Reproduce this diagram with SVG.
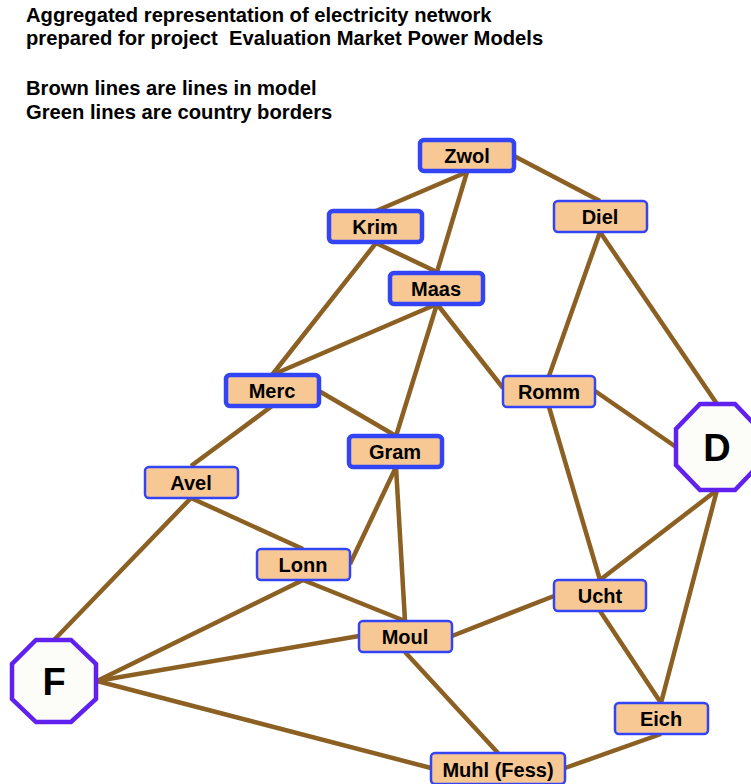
<svg xmlns="http://www.w3.org/2000/svg" width="751" height="784" viewBox="0 0 751 784">
<style>
.t{font-family:"Liberation Sans",Arial,sans-serif;font-weight:bold;font-size:20.2px;fill:#000;white-space:pre}
.n rect{fill:#F7C894;stroke:#3344F5;stroke-width:2.5}
.n.k rect{stroke-width:4.5}
.n text{font-family:"Liberation Sans",Arial,sans-serif;font-weight:bold;font-size:20px;fill:#000;text-anchor:middle}
.o polygon{fill:#FCFCF8;stroke:#6020EE;stroke-width:4.5}
.o text{font-family:"Liberation Sans",Arial,sans-serif;font-weight:bold;font-size:38px;fill:#000;text-anchor:middle}
#edges line{stroke:#8C6023;stroke-width:4.5;stroke-linecap:butt}
</style>
<rect width="751" height="784" fill="#fff"/>
<g id="title">
<text class="t" x="26" y="22">Aggregated representation of electricity network</text>
<text class="t" x="26" y="45" xml:space="preserve">prepared for project  Evaluation Market Power Models</text>
<text class="t" x="26" y="95">Brown lines are lines in model</text>
<text class="t" x="26" y="119">Green lines are country borders</text>
</g>
<g id="edges">
<line x1="467" y1="172" x2="376" y2="211"/>
<line x1="467" y1="172" x2="437" y2="272"/>
<line x1="514" y1="156" x2="600" y2="201"/>
<line x1="376" y1="243" x2="437" y2="272"/>
<line x1="376" y1="243" x2="272" y2="375"/>
<line x1="437" y1="304" x2="272" y2="375"/>
<line x1="437" y1="304" x2="396" y2="436"/>
<line x1="437" y1="304" x2="503" y2="388"/>
<line x1="600" y1="232" x2="549" y2="376"/>
<line x1="600" y1="232" x2="717" y2="404"/>
<line x1="595" y1="391" x2="676" y2="447"/>
<line x1="549" y1="407" x2="600" y2="580"/>
<line x1="319" y1="391" x2="396" y2="436"/>
<line x1="272" y1="406" x2="191" y2="466"/>
<line x1="191" y1="498" x2="303" y2="549"/>
<line x1="191" y1="498" x2="54" y2="640"/>
<line x1="396" y1="467" x2="350" y2="564"/>
<line x1="396" y1="467" x2="405" y2="621"/>
<line x1="303" y1="580" x2="405" y2="621"/>
<line x1="303" y1="580" x2="97" y2="681"/>
<line x1="359" y1="636" x2="97" y2="681"/>
<line x1="452" y1="636" x2="554" y2="596"/>
<line x1="405" y1="652" x2="498" y2="753"/>
<line x1="97" y1="681" x2="431" y2="768"/>
<line x1="600" y1="580" x2="717" y2="490"/>
<line x1="600" y1="611" x2="661" y2="703"/>
<line x1="717" y1="490" x2="661" y2="703"/>
<line x1="661" y1="734" x2="565" y2="768"/>
</g>
<g id="Zwol" class="n k"><rect x="420" y="140" width="94" height="31" rx="4"/><text x="467" y="163">Zwol</text></g>
<g id="Diel" class="n"><rect x="554" y="201" width="93" height="31" rx="4"/><text x="600" y="224">Diel</text></g>
<g id="Krim" class="n k"><rect x="329" y="211" width="93" height="31" rx="4"/><text x="375" y="234">Krim</text></g>
<g id="Maas" class="n k"><rect x="390" y="273" width="93" height="31" rx="4"/><text x="436" y="296">Maas</text></g>
<g id="Merc" class="n k"><rect x="226" y="375" width="93" height="31" rx="4"/><text x="272" y="398">Merc</text></g>
<g id="Romm" class="n"><rect x="503" y="376" width="92" height="31" rx="4"/><text x="549" y="399">Romm</text></g>
<g id="Gram" class="n k"><rect x="349" y="436" width="93" height="31" rx="4"/><text x="395" y="459">Gram</text></g>
<g id="Avel" class="n"><rect x="145" y="467" width="93" height="31" rx="4"/><text x="191" y="490">Avel</text></g>
<g id="Lonn" class="n"><rect x="257" y="549" width="93" height="31" rx="4"/><text x="303" y="572">Lonn</text></g>
<g id="Ucht" class="n"><rect x="554" y="580" width="92" height="31" rx="4"/><text x="600" y="603">Ucht</text></g>
<g id="Moul" class="n"><rect x="359" y="621" width="93" height="31" rx="4"/><text x="405" y="644">Moul</text></g>
<g id="Eich" class="n"><rect x="615" y="703" width="93" height="31" rx="4"/><text x="661" y="726">Eich</text></g>
<g id="Muhl" class="n"><rect x="431" y="753" width="134" height="31" rx="4"/><text x="498" y="777">Muhl (Fess)</text></g>
<g id="D" class="o"><polygon points="700,404 735,404 759,429 759,465 735,490 700,490 676,465 676,429"/><text x="717" y="461">D</text></g>
<g id="F" class="o"><polygon points="36,640 71,640 96,664 96,699 71,722 36,722 12,699 12,664"/><text x="54" y="695">F</text></g>
</svg>
